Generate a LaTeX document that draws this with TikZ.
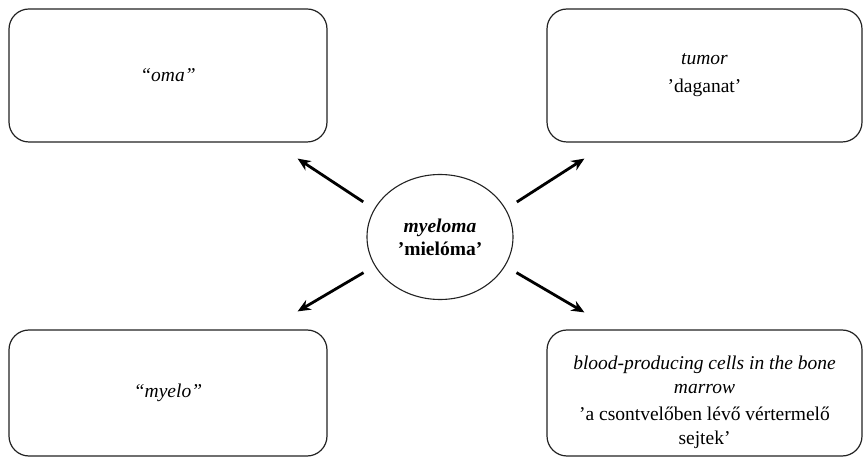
\documentclass[tikz,border=0pt]{standalone}
\usepackage{fontspec}
\setmainfont{Liberation Serif}
\usepackage{tikz}
\usetikzlibrary{arrows.meta,positioning,calc,shapes.geometric}
\definecolor{boxline}{HTML}{222222}

\begin{document}
\begin{tikzpicture}[x=1pt, y=1pt,
    every node/.style={font=\fontsize{19.5}{24}\selectfont},
    glossbox/.style={draw=boxline, line width=1.2pt, rounded corners=20pt, align=center, inner sep=0pt},
    centrebox/.style={draw=boxline, line width=1.1pt, ellipse, minimum width=146pt, minimum height=125pt, inner sep=0pt, align=center},
    arrowline/.style={line width=2.8pt, -{Stealth[length=13pt, width=11pt]}, shorten <=13pt}
  ]
  \useasboundingbox (0,0) rectangle (865,458);

  % Centre term
  \node[centrebox] (myeloma) at (440,221) {\textbf{\textit{myeloma}}\\[-1pt]\textbf{’mielóma’}};

  % The four glosses
  \node[glossbox, minimum width=318pt, minimum height=133pt] (oma) at (168,382.5) {\textit{“oma”}};
  \node[glossbox, minimum width=315pt, minimum height=133pt] (tumor) at (704.5,382.5) {\textit{tumor}\\[4pt]’daganat’};
  \node[glossbox, minimum width=318pt, minimum height=126pt] (myelo) at (168,65) {\textit{“myelo”}};
  \node[glossbox, minimum width=315pt, minimum height=126pt] (marrow) at (704.5,65)
    {\rule{0pt}{32pt}\textit{blood-producing cells in the bone}\\\textit{marrow}\\[3pt]’a csontvelőben lévő vértermelő\\sejtek’};

  % Arrow tips stop short of the boxes
  \coordinate (omatip) at ([shift={(-30,-16)}]oma.south east);
  \coordinate (tumortip) at ([shift={(38,-16)}]tumor.south west);
  \coordinate (myelotip) at ([shift={(-30,18)}]myelo.north east);
  \coordinate (marrowtip) at ([shift={(38,17)}]marrow.north west);

  \foreach \ang/\tip in {157/omatip, 23/tumortip, 204/myelotip, 336/marrowtip} {
    \draw[arrowline] (myeloma.\ang) -- (\tip);
  }
\end{tikzpicture}
\end{document}
